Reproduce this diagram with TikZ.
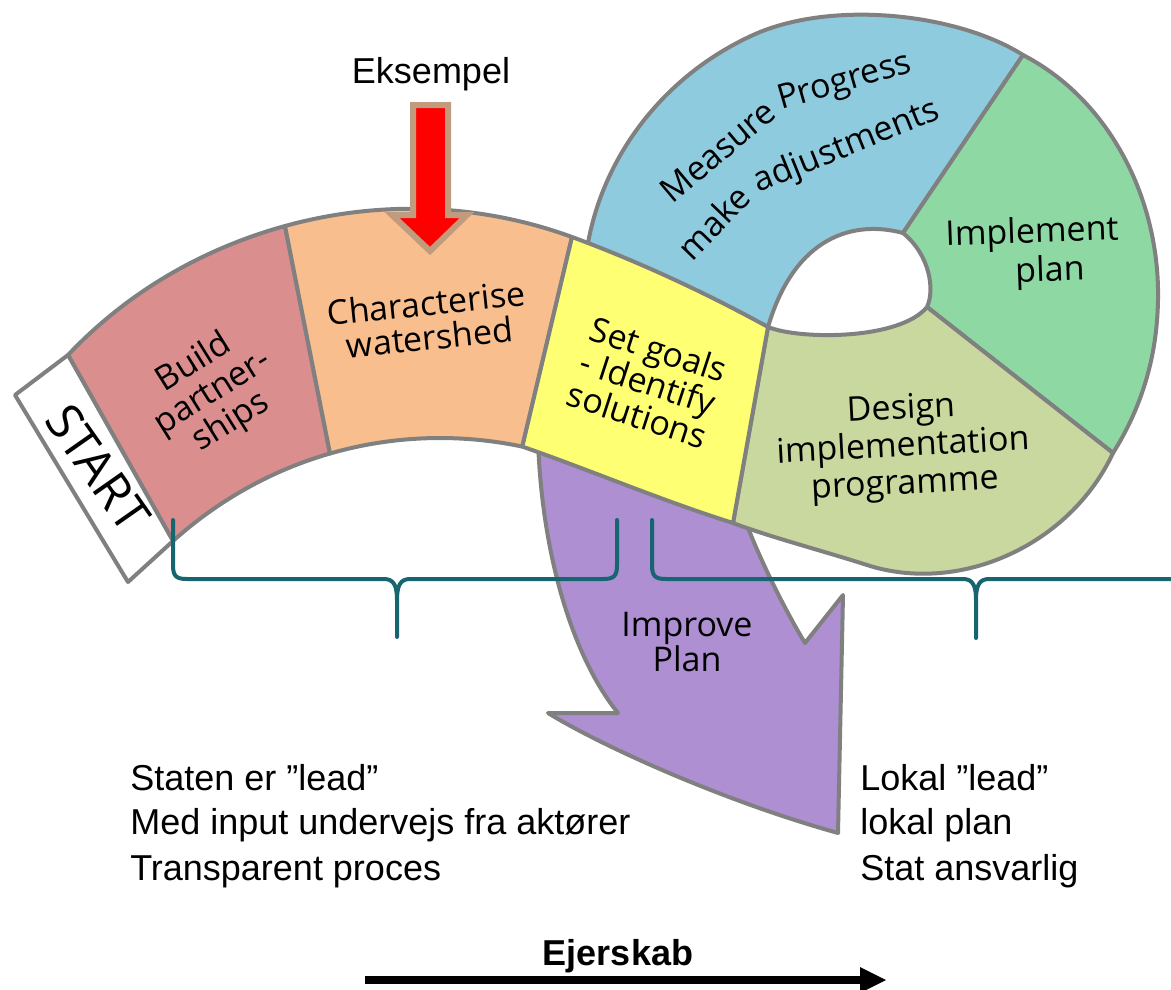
\documentclass[tikz,border=0pt]{standalone}
\usepackage{fontspec}
\setmainfont{Liberation Sans}
\newfontfamily\handfont{Open Sans}
\usetikzlibrary{positioning}
\usetikzlibrary{calc}

\definecolor{bandgray}{RGB}{128,128,128}
\definecolor{pinkseg}{RGB}{218,142,142}
\definecolor{orangeseg}{RGB}{249,190,141}
\definecolor{yellowseg}{RGB}{255,255,115}
\definecolor{blueseg}{RGB}{143,203,222}
\definecolor{greenseg}{RGB}{142,216,164}
\definecolor{designseg}{RGB}{200,216,158}
\definecolor{purpleseg}{RGB}{173,143,210}
\definecolor{bracecol}{RGB}{22,101,112}
\definecolor{arrowtan}{RGB}{192,155,125}

\tikzset{
  segment/.style={draw=bandgray, line width=3pt, line join=round},
  hand/.style={font=\handfont\fontsize{25.5}{26}\selectfont, align=center, inner sep=0pt},
  plain/.style={font=\fontsize{27}{33}\selectfont, anchor=base west, inner sep=0pt},
  brace/.style={draw=bracecol, line width=3pt, line cap=round, line join=round},
}

\begin{document}
\begin{tikzpicture}[x=0.75pt,y=0.75pt,yscale=-1,xscale=1]

\useasboundingbox (0,0) rectangle (1171,989);

% Band corners
\coordinate (s1) at (15,395);
\coordinate (s2) at (68,355);
\coordinate (s3) at (173,541);
\coordinate (s4) at (128,582);
\coordinate (o1) at (285,226);
\coordinate (o2) at (572,237);
\coordinate (i1) at (330,453.5);
\coordinate (i2) at (522.3,446.6);
\coordinate (y1) at (768,327);
\coordinate (y2) at (733,523);
\coordinate (l1) at (1023,55);
\coordinate (l2) at (903,233);
\coordinate (l3) at (927,307);
\coordinate (l4) at (1113,453);

% Improve Plan arrow
\draw [segment, fill=purpleseg] (538,440) .. controls (542,560) and (575,660) .. (618,713) -- (548,713) .. controls (600,745) and (720,800) .. (838,833) -- (843,595) -- (805,643) .. controls (785,610) and (760,560) .. (745,520) -- cycle ;

% Loop
\draw [segment, fill=blueseg] (588,243) .. controls (605,150) and (670,70) .. (760,32) .. controls (840,0) and (960,15) .. (l1) -- (l2) .. controls (855,220) and (795,235) .. (y1) -- cycle ;
\draw [segment, fill=greenseg] (l1) .. controls (1110,100) and (1160,200) .. (1158,300) .. controls (1157,360) and (1140,410) .. (l4) -- (l3) .. controls (935,290) and (930,255) .. (l2) -- cycle ;
\draw [segment, fill=designseg] (y1) .. controls (800,340) and (900,340) .. (l3) -- (l4) .. controls (1070,545) and (960,595) .. (867,565) .. controls (820,550) and (770,537) .. (y2) -- cycle ;

% Band
\draw [segment, fill=pinkseg] (s2) .. controls (127.1,292.5) and (202.1,248.9) .. (o1) -- (i1) .. controls (271.8,470.2) and (218,500.5) .. (s3) -- cycle ;
\draw [segment, fill=orangeseg] (o1) .. controls (379.6,199.9) and (479.9,203.3) .. (o2) -- (i2) .. controls (458.6,433.2) and (392.6,435.5) .. (i1) -- cycle ;
\draw [segment, fill=yellowseg] (o2) .. controls (640,262) and (710,295) .. (y1) -- (y2) .. controls (660,500) and (590,470) .. (i2) -- cycle ;
\draw [segment, fill=white] (s1) -- (s2) -- (s3) -- (s4) -- cycle ;

% Eksempel arrow
\draw [draw=arrowtan, fill=red, line width=4.5pt, line join=miter] (413,105) -- (448,105) -- (448,215) -- (467,215) -- (430,251) -- (392,215) -- (413,215) -- cycle ;

% Braces
\draw [brace] (173,520) -- (173,565) .. controls (173,576) and (176,579) .. (187,579) -- (384,579) .. controls (394,579) and (397,586) .. (397,600) -- (397,637) -- (397,600) .. controls (397,586) and (400,579) .. (410,579) -- (603,579) .. controls (614,579) and (617,576) .. (617,565) -- (617,520) ;
\draw [brace] (652,520) -- (652,565) .. controls (652,576) and (655,579) .. (666,579) -- (963,579) .. controls (973,579) and (976,586) .. (976,600) -- (976,638) -- (976,600) .. controls (976,586) and (979,579) .. (989,579) -- (1180,579) ;

% Ejerskab arrow
\draw [line width=6pt] (365,980) -- (862,980) ;
\fill (860,967) -- (886,980) -- (860,993) -- cycle ;

% Segment labels
\node [hand, font=\handfont\fontsize{37}{37}\selectfont, rotate=-55] (startlabel) at (98,468) {START};
\node [hand, rotate=32] (buildlabel) at (213,393) {Build\\partner-\\ships};
\node [hand, rotate=6] (charlabel) at (428,320) {Characterise\\watershed};
\node [hand, rotate=-18] (setlabel) at (648,382) {Set goals\\- Identify\\solutions};
\node [hand, rotate=40] (measurelabel) at (718,151) {Measure};
\node [hand, rotate=16] (progresslabel) at (845,83) {Progress};
\node [hand, rotate=46] (makelabel) at (713,222) {make};
\node [hand, rotate=22] (adjustlabel) at (847,147) {adjustments};
\node [hand, rotate=2] (implementlabel) at (1032,234) {Implement};
\node [hand, rotate=2] (planlabel) at (1050,272) {plan};
\node [hand, rotate=3, font=\handfont\fontsize{25.5}{28}\selectfont] (designlabel) at (903,448) {Design\\implementation\\programme};
\node [hand] (improvelabel) at (687,642) {Improve\\Plan};

% Text
\node [plain, anchor=base] (eksempel) at (431,83) {Eksempel};
\node [plain] (stat1) at (130,790) {Staten er ”lead”};
\node [plain] (stat2) at (130,834) {Med input undervejs fra aktører};
\node [plain] (stat3) at (130,880) {Transparent proces};
\node [plain] (lokal1) at (860,790) {Lokal ”lead”};
\node [plain] (lokal2) at (860,834) {lokal plan};
\node [plain] (lokal3) at (860,880) {Stat ansvarlig};
\node [plain, anchor=base, font=\bfseries\fontsize{27}{33}\selectfont] (ejerskab) at (618,965) {Ejerskab};

\end{tikzpicture}
\end{document}
